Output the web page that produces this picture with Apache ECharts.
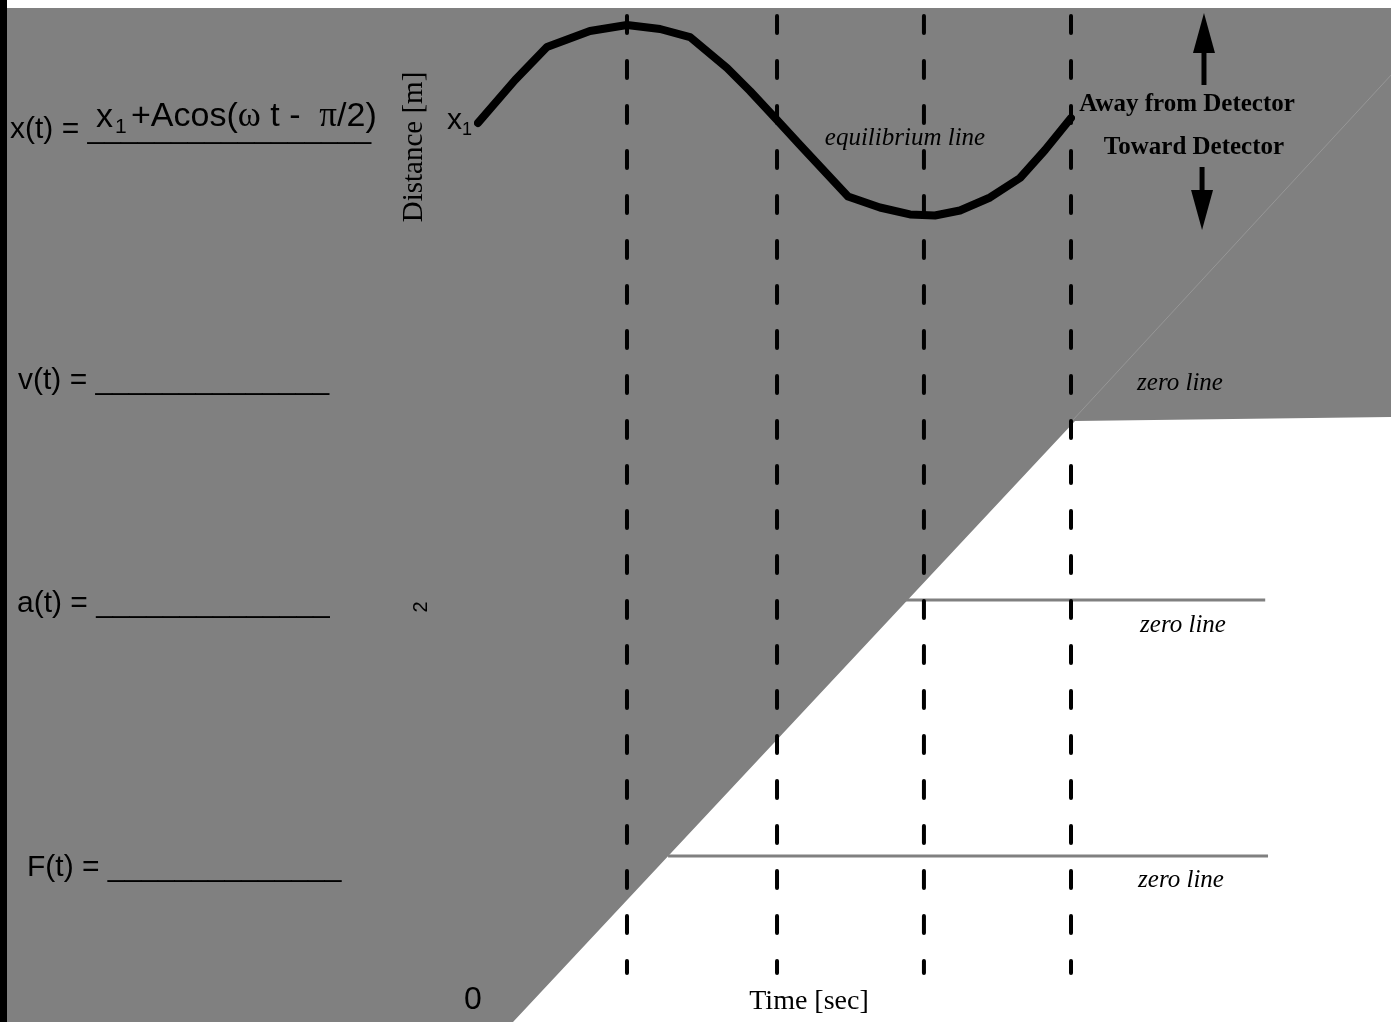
<!DOCTYPE html>
<html><head><meta charset="utf-8">
<script src="https://cdn.jsdelivr.net/npm/echarts@6/dist/echarts.min.js"></script>
<style>html,body{margin:0;padding:0;background:#fff}#c{width:1391px;height:1022px}</style>
</head><body><div id="c"></div>
<script>
// Units: time in quarter periods (t), distance in amplitudes A (x1 = 0)
const curveT = [0, 0.250, 0.465, 0.755, 1.005, 1.228, 1.430, 1.680, 1.835, 2.017, 2.172, 2.496, 2.711, 2.914, 3.082, 3.251, 3.454, 3.656, 3.825, 4.000];
const curveX = [-0.026, 0.424, 0.770, 0.937, 1.000, 0.958, 0.874, 0.550, 0.309, 0.005, -0.257, -0.796, -0.911, -0.984, -0.995, -0.942, -0.806, -0.602, -0.309, 0.026];
const markerTimes = [1.005, 2.017, 3.008, 4.0];
const markerRange = [1.094, -8.926];
// worksheet shading (v panel zero line forms its lower edge)
const shadeT = [-3.177, 6.159, 6.159, 4.027, 0.236, -3.177];
const shadeY = [1.178, 1.178, -3.105, -3.147, -9.440, -9.440];
const faintT = [4.013, 6.159];
const faintY = [-3.136, 0.476];
// zero lines of a(t) and F(t) panels: [tStart, tEnd, y]
const zeroLines = [[2.880, 5.310, -5.021], [1.282, 5.329, -7.702]];
// direction arrows: [t, tail, tip]
const arrows = [[4.897, 0.372, 1.126], [4.884, -0.487, -1.147]];

const SANS = 'Liberation Sans', SERIF = 'Liberation Serif';
const chart = echarts.init(document.getElementById('c'), null, {renderer: 'canvas'});

// segments: [t1, y1, t2, y2, kind]
const segments = [];
segments.push([faintT[0], faintY[0], faintT[1], faintY[1], 'faint']);
zeroLines.forEach(z => segments.push([z[0], z[2], z[1], z[2], 'zero']));
markerTimes.forEach(t => segments.push([t, markerRange[0], t, markerRange[1], 'marker']));
const segStyles = {
  faint: {stroke: '#969696', lineWidth: 1},
  zero: {stroke: '#808080', lineWidth: 3},
  marker: {stroke: '#000', lineWidth: 4, lineDash: [17, 28], lineCap: 'round'}
};

const series = [];
series.push({
  type: 'custom', coordinateSystem: 'cartesian2d', clip: false, silent: true, z: 0,
  data: [[0, 0]],
  renderItem: (p, api) => ({
    type: 'polygon',
    shape: {points: shadeT.map((t, i) => api.coord([t, shadeY[i]]))},
    style: {fill: '#808080'}
  })
});
series.push({
  type: 'custom', coordinateSystem: 'cartesian2d', clip: false, silent: true, z: 2,
  data: segments.map(s => [s[0], s[1], s[2], s[3]]),
  renderItem: (p, api) => {
    const s = segments[p.dataIndex];
    const a = api.coord([s[0], s[1]]), b = api.coord([s[2], s[3]]);
    return {type: 'line', shape: {x1: a[0], y1: a[1], x2: b[0], y2: b[1]}, style: Object.assign({fill: null}, segStyles[s[4]])};
  }
});
series.push({type: 'line', clip: false, silent: true, symbol: 'none', z: 4,
  data: curveT.map((t, i) => [t, curveX[i]]),
  lineStyle: {color: '#000', width: 8, cap: 'round', join: 'round'}});
series.push({
  type: 'custom', coordinateSystem: 'cartesian2d', clip: false, silent: true, z: 5,
  data: arrows,
  renderItem: (p, api) => {
    const a = arrows[p.dataIndex];
    const tail = api.coord([a[0], a[1]]), tip = api.coord([a[0], a[2]]);
    const dir = tip[1] < tail[1] ? -1 : 1;
    const baseY = tip[1] - dir * 40;
    return {type: 'group', children: [
      {type: 'line', shape: {x1: tail[0], y1: tail[1], x2: tip[0], y2: baseY}, style: {stroke: '#000', lineWidth: 5}},
      {type: 'polygon', shape: {points: [[tip[0], tip[1]], [tip[0] - 11, baseY], [tip[0] + 11, baseY]]}, style: {fill: '#000'}}
    ]};
  }
});

function txt(text, x, y, font, opts) {
  return Object.assign({type: 'text', x: x, y: y, z: 100, silent: true,
    style: Object.assign({text: text, font: font, fill: '#000', align: 'left', verticalAlign: 'middle'}, opts || {})});
}
const graphic = [
  {type: 'rect', shape: {x: 0, y: 0, width: 7, height: 1022}, style: {fill: '#000'}, z: 100, silent: true},
  txt('x(t) = _________________', 10, 130, '30px ' + SANS),
  txt('x', 96, 118, '34px ' + SANS),
  txt('1', 115, 127, '21px ' + SANS),
  {type: 'text', x: 131, y: 117, z: 100, silent: true, style: {
    text: '{a|+Acos(}{g|ω}{a| t -  }{g|π}{a|/2)}', align: 'left', verticalAlign: 'middle',
    rich: {a: {font: '34px ' + SANS, fill: '#000'}, g: {font: '35px ' + SERIF, fill: '#000'}}}},
  txt('v(t) = ______________', 18, 381, '30px ' + SANS),
  txt('a(t) = ______________', 17, 604, '30px ' + SANS),
  txt('F(t) = ______________', 27, 868, '30px ' + SANS),
  txt('x', 447, 121, '30px ' + SANS),
  txt('1', 462, 130, '18px ' + SANS),
  Object.assign(txt('Distance [m]', 414, 147, '29px ' + SERIF, {align: 'center'}), {rotation: Math.PI / 2}),
  Object.assign(txt('2', 421, 607, '20px ' + SANS, {align: 'center'}), {rotation: Math.PI / 2}),
  txt('0', 473, 1000, '32px ' + SANS, {align: 'center'}),
  txt('Time [sec]', 809, 1002, '28px ' + SERIF, {align: 'center'}),
  txt('equilibrium line', 905, 138, 'italic 25px ' + SERIF, {align: 'center'}),
  txt('Away from Detector', 1187, 105, 'bold 25px ' + SERIF, {align: 'center'}),
  txt('Toward Detector', 1194, 148, 'bold 25px ' + SERIF, {align: 'center'}),
  txt('zero line', 1180, 383, 'italic 25px ' + SERIF, {align: 'center'}),
  txt('zero line', 1183, 625, 'italic 25px ' + SERIF, {align: 'center'}),
  txt('zero line', 1181, 880, 'italic 25px ' + SERIF, {align: 'center'})
];

chart.setOption({
  animation: false,
  backgroundColor: '#ffffff',
  grid: {left: 478, right: 320, top: 25, bottom: 806, containLabel: false},
  xAxis: {type: 'value', min: 0, max: 4, show: false},
  yAxis: {type: 'value', min: -1, max: 1, show: false},
  series: series,
  graphic: graphic
});
</script>
</body></html>
